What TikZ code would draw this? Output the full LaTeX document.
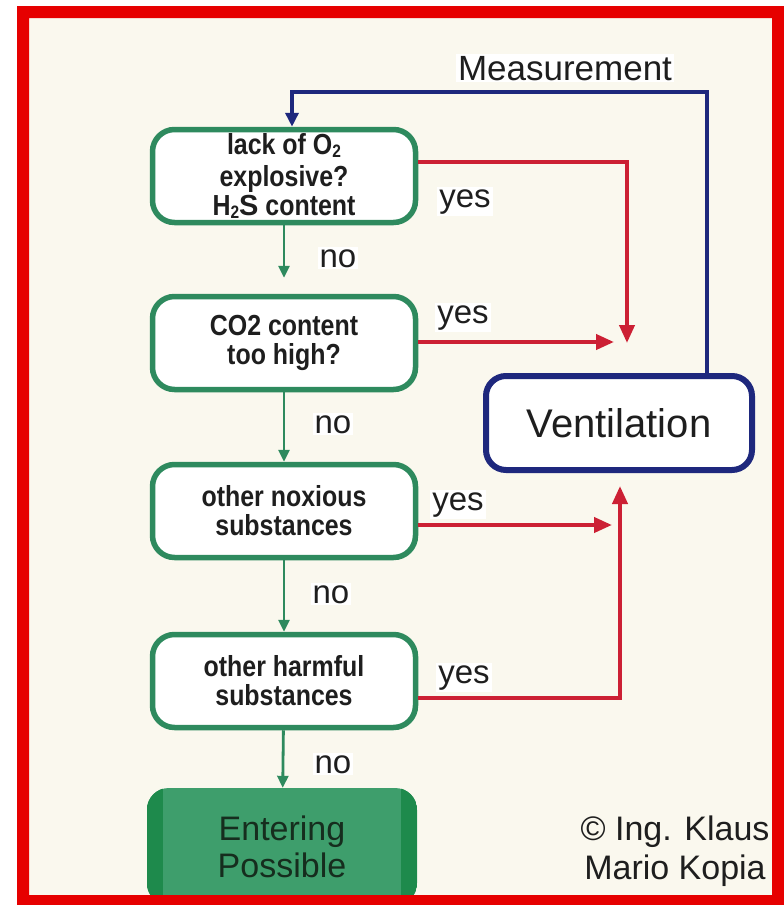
\documentclass[tikz,border=0pt]{standalone}
\usepackage{fontspec}
\setmainfont{Liberation Sans}
\newfontfamily\boxfont{Liberation Sans}[FakeStretch=0.86]
\newfontfamily\boldS{Liberation Sans Bold}
\usetikzlibrary{arrows.meta}
\definecolor{framered}{RGB}{230,0,0}
\definecolor{arrred}{RGB}{204,32,52}
\definecolor{navy}{RGB}{30,40,125}
\definecolor{boxgreen}{RGB}{46,138,94}
\definecolor{fillgreen}{RGB}{62,158,108}
\definecolor{darkgreen}{RGB}{30,138,76}
\definecolor{bgcream}{RGB}{250,248,238}
\definecolor{ink}{RGB}{30,30,30}
\newcommand{\lowtwo}{{\fontsize{18}{18}\selectfont\raisebox{-2.5pt}{2}}}
\begin{document}
\begin{tikzpicture}[x=1pt,y=-1pt,
  qbox/.style={draw=boxgreen, line width=5.5pt, rounded corners=22pt, fill=white,
    minimum width=263pt, minimum height=93pt, inner sep=0pt, align=center,
    font=\boxfont\fontsize{29}{29}\selectfont\bfseries, text=ink},
  lbl/.style={fill=white, inner sep=2pt, anchor=base, font=\fontsize{33}{36}\selectfont, text=ink},
  garrow/.style={draw=boxgreen, line width=2.8pt, -{Triangle[length=12pt,width=11pt]}},
  rarrow/.style={draw=arrred, line width=4pt, -{Triangle[length=18pt,width=15pt]}},
  barrow/.style={draw=navy, line width=4pt, -{Triangle[length=14pt,width=13pt]}},
]
\useasboundingbox (0,0) rectangle (784,905);
\fill[white] (0,0) rectangle (784,905);
\fill[bgcream] (29,18) rectangle (772,895);

% question boxes
\node[qbox] (b1) at (284,176) {lack of O\lowtwo\\[3pt]explosive?\\H\lowtwo{\boldS S} content};
\node[qbox] (b2) at (284,343) {CO2 content\\too high?};
\node[qbox] (b3) at (284,511) {other noxious\\substances};
\node[qbox] (b4) at (284,681) {other harmful\\substances};

% final box
\node[fill=fillgreen, rounded corners=22pt, minimum width=270pt, minimum height=117pt,
  inner sep=0pt] (b5) at (282,846.5) {};
\begin{scope}
  \clip[rounded corners=22pt] (b5.north west) rectangle (b5.south east);
  \fill[darkgreen] (b5.north west) rectangle ([xshift=16pt]b5.south west);
  \fill[darkgreen] ([xshift=-16pt]b5.north east) rectangle (b5.south east);
\end{scope}
\node[align=center, font=\fontsize{34}{37}\selectfont, text={rgb,255:red,22;green,45;blue,30}] (b5t) at (b5.center) {Entering\\Possible};

% ventilation
\node[draw=navy, line width=6pt, rounded corners=20pt, fill=white, minimum width=266pt,
  minimum height=94pt, font=\fontsize{40}{44}\selectfont, text=ink] (vent) at (619,423) {Ventilation};

% green arrows
\draw[garrow, shorten >=16pt] (b1) -- (b2);
\draw[garrow] (b2) -- (b3);
\draw[garrow] (b3) -- (b4);
\draw[garrow] (b4) -- (b5);

% blue measurement loop
\coordinate (m1) at (707,92);
\coordinate (m2) at (292,92);
\draw[barrow] (vent.north -| m1) -- (m1) -- (m2) -- (m2 |- b1.north);

% red yes arrows
\coordinate (r1) at (627,162);
\coordinate (j1) at (627,343);
\draw[rarrow] (b1.east |- r1) -- (r1) -- (j1);
\coordinate (j2) at (614,342);
\draw[rarrow] (b2.east |- j2) -- (j2);
\coordinate (j3) at (612,525);
\draw[rarrow] (b3.east |- j3) -- (j3);
\coordinate (r4) at (620,698);
\coordinate (j4) at (620,486);
\draw[rarrow] (b4.east |- r4) -- (r4) -- (j4);

% labels
\node[lbl, font=\fontsize{35}{38}\selectfont] (meas) at (565,80) {Measurement};
\node[lbl] (y1) at (465,207) {yes};
\node[lbl] (n1) at (338,267) {no};
\node[lbl] (y2) at (463,323) {yes};
\node[lbl] (n2) at (333,433) {no};
\node[lbl] (y3) at (458,510) {yes};
\node[lbl] (n3) at (331,603) {no};
\node[lbl] (y4) at (464,683) {yes};
\node[lbl] (n4) at (333,773) {no};

% copyright
\node[align=center, font=\fontsize{34}{39}\selectfont, text=ink] (copy) at (675,851) {© Ing. Klaus\\Mario Kopia};

% red frame
\fill[framered, even odd rule] (17,6) rectangle (784,905) (29,18) rectangle (772,895);
\end{tikzpicture}
\end{document}
